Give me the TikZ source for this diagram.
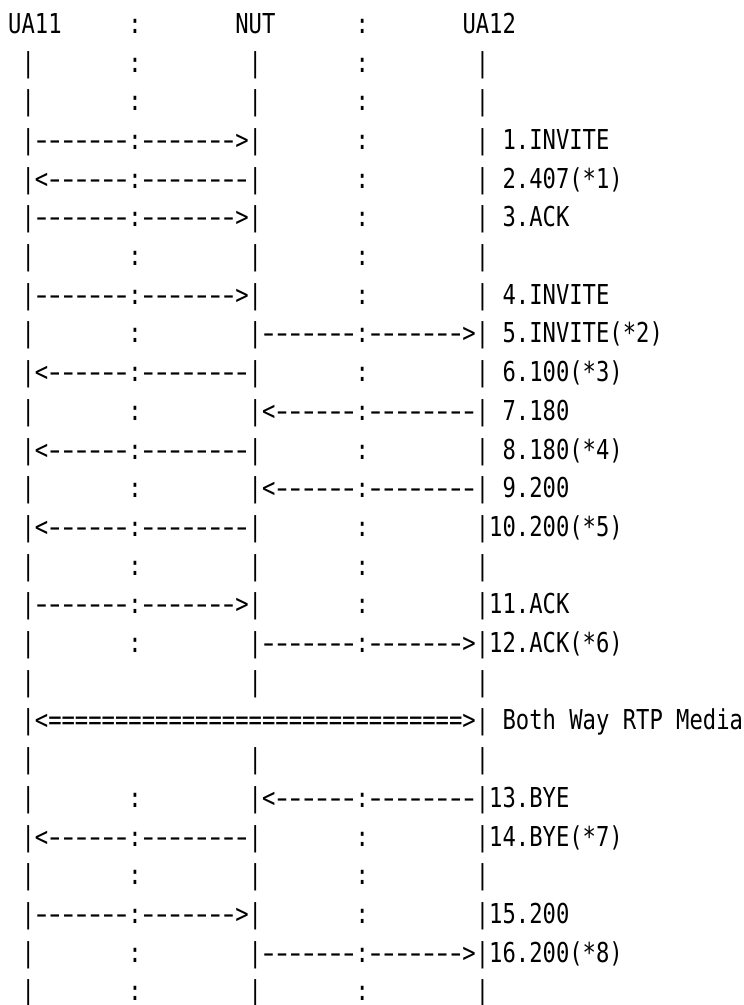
\documentclass[tikz,border=0pt]{standalone}
\usepackage{fontspec}
\newfontfamily\asciifont[FakeStretch=0.81,Ligatures=TeXOff]{DejaVu Sans Mono}
\usepackage{tikz}

% one lane of the chart is 17 columns wide
\newcommand{\gap}[1]{\hspace*{#1\fontcharwd\font`x}}
\newcommand{\dsh}{\makebox[\fontcharwd\font`x]{\scalebox{1.5}[1]{-}}}
\newcommand{\dashes}[1]{\foreach \i in {1,...,#1}{\dsh}}
\newcommand{\lane}{|\gap{7}:\gap{8}}
\newcommand{\plain}{|\gap{16}}
\newcommand{\toright}{|\dashes{7}:\dashes{7}>}
\newcommand{\toleft}{|<\dashes{6}:\dashes{8}}

\begin{document}
\begin{tikzpicture}[x=13.35pt,y=-38.7pt,
row/.style={anchor=base west,inner sep=0pt,
  font=\asciifont\fontsize{27.4pt}{30pt}\selectfont}]

\path[fill=white,use as bounding box] (0pt,0pt) rectangle (744pt,-1005pt);

\begin{scope}[shift={(8pt,-33.3pt)}]
%Header
\node[row] (head) at (0,0) {UA11\gap{5}:\gap{7}NUT\gap{6}:\gap{7}UA12};

%Registration
\node[row] (r1) at (1,1) {\lane\lane|};
\node[row] (r2) at (1,2) {\lane\lane|};
\node[row] (r3) at (1,3) {\toright\lane|\gap{1}1.INVITE};
\node[row] (r4) at (1,4) {\toleft\lane|\gap{1}2.407(*1)};
\node[row] (r5) at (1,5) {\toright\lane|\gap{1}3.ACK};
\node[row] (r6) at (1,6) {\lane\lane|};

%Call setup
\node[row] (r7) at (1,7) {\toright\lane|\gap{1}4.INVITE};
\node[row] (r8) at (1,8) {\lane\toright|\gap{1}5.INVITE(*2)};
\node[row] (r9) at (1,9) {\toleft\lane|\gap{1}6.100(*3)};
\node[row] (r10) at (1,10) {\lane\toleft|\gap{1}7.180};
\node[row] (r11) at (1,11) {\toleft\lane|\gap{1}8.180(*4)};
\node[row] (r12) at (1,12) {\lane\toleft|\gap{1}9.200};
\node[row] (r13) at (1,13) {\toleft\lane|10.200(*5)};
\node[row] (r14) at (1,14) {\lane\lane|};
\node[row] (r15) at (1,15) {\toright\lane|11.ACK};
\node[row] (r16) at (1,16) {\lane\toright|12.ACK(*6)};

%Media
\node[row] (r17) at (1,17) {\plain\plain|};
\node[row] (r18) at (1,18) {|<===============================>|\gap{1}Both Way RTP Media};
\node[row] (r19) at (1,19) {\plain\plain|};

%Release
\node[row] (r20) at (1,20) {\lane\toleft|13.BYE};
\node[row] (r21) at (1,21) {\toleft\lane|14.BYE(*7)};
\node[row] (r22) at (1,22) {\lane\lane|};
\node[row] (r23) at (1,23) {\toright\lane|15.200};
\node[row] (r24) at (1,24) {\lane\toright|16.200(*8)};
\node[row] (r25) at (1,25) {\lane\lane|};
\end{scope}
\end{tikzpicture}
\end{document}
